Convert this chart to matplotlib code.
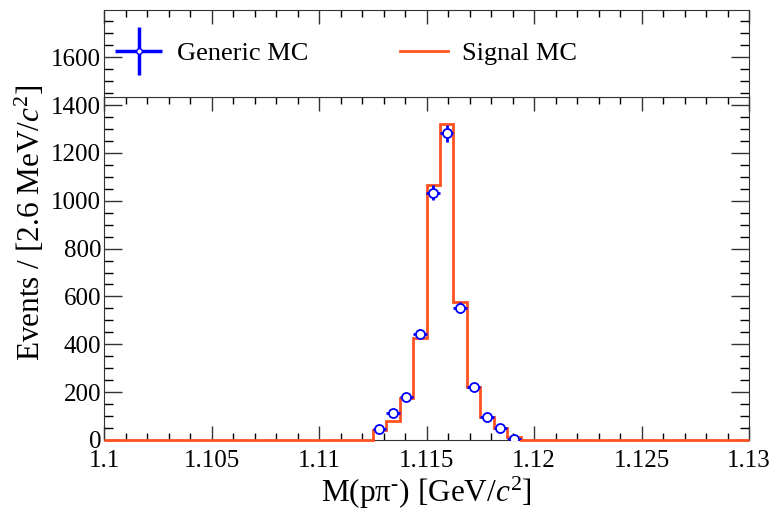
import numpy as np
import matplotlib
matplotlib.use("Agg")
import matplotlib.pyplot as plt
from matplotlib.ticker import MultipleLocator, FuncFormatter
from matplotlib.legend_handler import HandlerErrorbar
from matplotlib.container import ErrorbarContainer

plt.rcParams['font.family'] = ['Liberation Serif', 'DejaVu Serif']
plt.rcParams['mathtext.fontset'] = 'custom'
plt.rcParams['mathtext.rm'] = 'Liberation Serif'
plt.rcParams['mathtext.it'] = 'Liberation Serif:italic'

# Data
# -----------------------------------------------------------------------------
x_min = 1.1
x_max = 1.13
n_bins = 48
bin_edges = np.linspace(x_min, x_max, n_bins + 1)

# non-empty bins start at index 20
first_bin = 20
signal_mc = [42, 81, 174, 425, 1064, 1320, 578, 223, 97, 49, 14]
generic_mc = [45, 114, 181, 443, 1034, 1282, 553, 220, 97, 49, 4]

signal_counts = np.zeros(n_bins)
signal_counts[first_bin:first_bin + len(signal_mc)] = signal_mc

centers = 0.5 * (bin_edges[:-1] + bin_edges[1:])
gen_x = centers[first_bin:first_bin + len(generic_mc)]
gen_y = np.array(generic_mc, dtype=float)
half_width = 0.5 * (bin_edges[1] - bin_edges[0])

y_split = 1435
y_top = 1796

c_signal = '#ff5220'
c_generic = '#0000ff'


# Helpers
# -----------------------------------------------------------------------------

def style_axes(ax, show_bottom=True):
    ax.xaxis.set_major_locator(MultipleLocator(0.005))
    ax.xaxis.set_minor_locator(MultipleLocator(0.001))
    ax.xaxis.set_major_formatter(FuncFormatter(lambda v, p: f'{v:g}'))
    ax.yaxis.set_major_locator(MultipleLocator(200))
    ax.yaxis.set_minor_locator(MultipleLocator(50))
    ax.tick_params(axis='x', which='major', direction='in', length=10, width=1,
                   top=True, bottom=show_bottom, labelsize=18, pad=7.5)
    ax.tick_params(axis='x', which='minor', direction='in', length=5, width=1,
                   top=True, bottom=show_bottom)
    ax.tick_params(axis='y', which='major', direction='in', length=13, width=1,
                   left=True, right=True, labelsize=18, pad=2)
    ax.tick_params(axis='y', which='minor', direction='in', length=6.5, width=1,
                   left=True, right=True)
    for s in ax.spines.values():
        s.set_color('#333333')
    ax.tick_params(colors='#333333', labelcolor='black')


# Figure
# -----------------------------------------------------------------------------

fig = plt.figure(figsize=(7.77, 5.13), dpi=100)
left = 104 / 777
width = (749 - 104) / 777
y_bot = 1 - 440 / 513
y_mid = 1 - 96.7 / 513
y_hi = 1 - 10 / 513

ax = fig.add_axes([left, y_bot, width, y_mid - y_bot])
ax_top = fig.add_axes([left, y_mid, width, y_hi - y_mid], sharex=ax)

ax.stairs(signal_counts, bin_edges, color=c_signal, linewidth=2, clip_on=False,
          zorder=3, label='Signal MC')
ax.errorbar(gen_x, gen_y, xerr=half_width, yerr=np.sqrt(gen_y), fmt='o',
            color=c_generic, mfc='white', mec=c_generic, mew=1.3, ms=6.5,
            elinewidth=2, capsize=0, zorder=4)

ax.set_xlim(x_min, x_max)
ax.set_ylim(0, y_split)
ax_top.set_ylim(y_split, y_top)
style_axes(ax)
style_axes(ax_top, show_bottom=False)
ax_top.tick_params(axis='x', labelbottom=False)

fig.text(426 / 777, 1 - 493 / 513, r'M(pπ$^{\text{-}}$) [GeV/$c^{2}$]', fontsize=22.5,
         ha='center', va='center')
fig.text(30 / 777, 1 - 223 / 513, r'Events / [2.6 MeV/$c^{2}$]', fontsize=22.5,
         rotation=90, ha='center', va='center')

# legend in the top panel
gen_handle = ax_top.errorbar([], [], xerr=[], yerr=[], fmt='o', color=c_generic,
                             mfc='white', mec=c_generic, ms=4, elinewidth=2.5)
sig_handle, = ax_top.plot([], [], color=c_signal, linewidth=2)
ax_top.legend([gen_handle, sig_handle], ['Generic MC', 'Signal MC'], ncol=2,
              loc='center left', bbox_to_anchor=(-0.02, 0.5), frameon=False,
              fontsize=19, handlelength=1.8, handletextpad=0.55,
              columnspacing=3.48,
              handler_map={ErrorbarContainer: HandlerErrorbar(xerr_size=0.9)})

fig.savefig('out.png', dpi=100)
